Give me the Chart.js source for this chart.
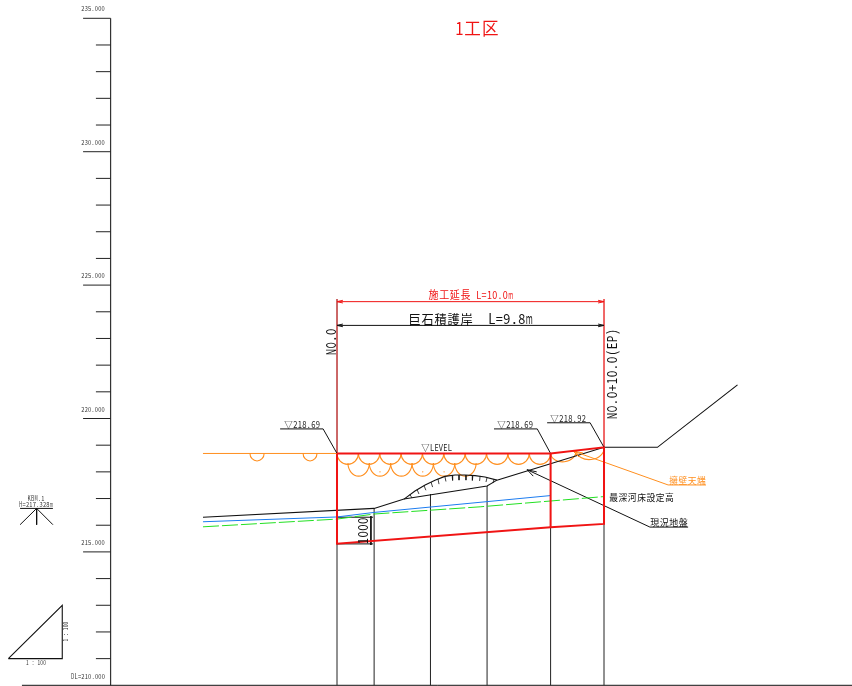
<!DOCTYPE html>
<html>
<head>
<meta charset="utf-8">
<title>1工区</title>
<script src="https://cdn.jsdelivr.net/npm/chart.js@4/dist/chart.umd.min.js"></script>
<style>
html, body { margin: 0; padding: 0; background: #fff; overflow: hidden; }
canvas { display: block; }
</style>
</head>
<body>
<canvas id="chart1" width="852" height="686"></canvas>
<script>
// x = 距離 (m) from NO.0, y = 標高 (m)
var GAP = [0, null];

var elevLabels = ['235.000', '230.000', '225.000', '220.000', '215.000'];
var minorElevs = [211, 212, 213, 214, 216, 217, 218, 219, 221, 222, 223, 224, 226, 227, 228, 229, 231, 232, 233, 234];
var majorElevs = [215, 220, 225, 230, 235];

var ground = [[-5.02, 216.30], [1.39, 216.63], [2.51, 216.98], [5.62, 217.47], [5.99, 217.69], [10, 218.92], [12, 218.92], [15, 221.26]];
var bank = [[2.51, 216.98], [2.92, 217.28], [3.30, 217.51], [3.67, 217.69], [4.04, 217.83], [4.42, 217.88], [4.79, 217.88], [5.17, 217.86], [5.54, 217.81], [5.99, 217.69]];
var hachures = [
    [2.73, 217.15, 2.81, 217.02], [3.00, 217.33, 3.07, 217.17], [3.26, 217.48, 3.33, 217.31],
    [3.52, 217.62, 3.58, 217.43], [3.78, 217.74, 3.82, 217.54], [4.04, 217.83, 4.08, 217.64],
    [4.31, 217.87, 4.33, 217.68], [4.57, 217.88, 4.57, 217.69], [4.83, 217.88, 4.83, 217.69],
    [5.09, 217.87, 5.07, 217.68], [5.36, 217.84, 5.34, 217.66], [5.62, 217.79, 5.58, 217.62],
    [5.88, 217.72, 5.84, 217.58]
];
var riverBlue = [[-5.02, 216.13], [0, 216.31], [1.39, 216.48], [7.98, 217.11]];
var riverGreen = [[-5.02, 215.94], [0, 216.23], [1.39, 216.42], [5.36, 216.69], [9.96, 217.07]];
var section = [[0, 218.69], [8, 218.69], [10, 218.92], [10, 216.05], [8, 215.92], [0, 215.31], [0, 218.69]];
var sectionMid = [[8, 218.69], [8, 215.92]];
var stations = [0, 1.39, 3.50, 5.62, 8, 10];
var stationTops = [215.31, 216.63, 217.17, 217.47, 215.92, 216.05];

var orangeGround = [[-5.02, 218.69], [0, 218.69]];
// x0, y0, x1, y1, depth
var scallops = [
    [-3.26, 218.69, -2.73, 218.69, 0.28], [-1.27, 218.69, -0.75, 218.69, 0.28],
    [0, 218.69, 0.8, 218.69, 0.41], [0.8, 218.69, 1.6, 218.69, 0.41], [1.6, 218.69, 2.4, 218.69, 0.41],
    [2.4, 218.69, 3.2, 218.69, 0.41], [3.2, 218.69, 4, 218.69, 0.41], [4, 218.69, 4.8, 218.69, 0.41],
    [4.8, 218.69, 5.6, 218.69, 0.41], [5.6, 218.69, 6.4, 218.69, 0.41], [6.4, 218.69, 7.2, 218.69, 0.41],
    [7.2, 218.69, 8, 218.69, 0.41],
    [0.41, 218.33, 1.21, 218.33, 0.49], [1.21, 218.33, 2.01, 218.33, 0.49], [2.01, 218.33, 2.81, 218.33, 0.49],
    [2.81, 218.33, 3.61, 218.33, 0.49], [3.61, 218.33, 4.41, 218.33, 0.49], [4.41, 218.33, 5.21, 218.33, 0.49],
    [8, 218.69, 8.95, 218.8, 0.37], [8.95, 218.8, 10, 218.92, 0.4]
];
var orangeDots = [[1.61, 218.0], [3.21, 218.0], [4.01, 218.0]];

var levelLeader1 = [[-2.13, 219.61], [-0.52, 219.61], [0, 218.69]];
var levelLeader2 = [[5.88, 219.61], [7.5, 219.61], [8, 218.69]];
var levelLeader3 = [[7.87, 219.84], [9.48, 219.84], [10, 218.92]];
var wallLeader = [[13.82, 217.51], [12.40, 217.51], [8.84, 218.78]];
var wallArrow = [[9.21, 218.71], [8.84, 218.78], [9.06, 218.56]];
var groundLeader = [[13.15, 215.93], [11.72, 215.93], [7.12, 218.08]];
var groundArrow = [[7.48, 218.0], [7.12, 218.08], [7.35, 217.84]];

var redDim = [[0, 224.38], [10, 224.38]];
var redDimTips = [[0.22, 224.43], [0, 224.38], [0.22, 224.33], GAP, [9.78, 224.43], [10, 224.38], [9.78, 224.33]];
var blackDim = [[0, 223.49], [10, 223.49]];
var blackDimTips = [[0.22, 223.54], [0, 223.49], [0.22, 223.44], GAP, [9.78, 223.54], [10, 223.49], [9.78, 223.44]];
var redExt0 = [[0, 224.48], [0, 218.69]];
var redExt10 = [[10, 224.48], [10, 218.92]];

var box1000 = [[0, 216.30], [1.35, 216.30], GAP, [1.27, 216.34], [1.27, 215.26], GAP, [1.35, 215.30], [0, 215.30]];
var kbmBar = [[-11.87, 216.63], [-10.64, 216.63]];
var kbmLegs = [[-11.87, 216.02], [-11.25, 216.63], [-10.64, 216.02], GAP, [-11.25, 216.63], [-11.25, 216.02]];
var scaleTriangle = [[-12.31, 211], [-10.29, 213], [-10.29, 211], [-12.31, 211]];
var baseline = [[-11.8, 210], [19.3, 210]];
var axisLine = [[-8.48, 210], [-8.48, 235]];

var BLACK = '#111111', RED = '#f01414', ORANGE = '#ff8f1f';
var MAJOR_X = -9.51, MINOR_X = -9.03, AXIS_X = -8.48;

function pts(list) {
    return list.map(function(p) { return { x: p[1] === null ? null : p[0], y: p[1] }; });
}

function line(list, color, width, dash) {
    return {
        data: pts(list),
        borderColor: color,
        borderWidth: width,
        borderDash: dash || [],
        pointRadius: 0,
        fill: false,
        tension: 0,
        spanGaps: false
    };
}

function tickSegments(values, fromX) {
    var out = [];
    values.forEach(function(v) {
        out.push([fromX, v], [AXIS_X, v], GAP);
    });
    return out;
}

function stationSegments() {
    var out = [];
    stations.forEach(function(s, i) {
        out.push([s, 210], [s, stationTops[i]], GAP);
    });
    return out;
}

function hachureSegments() {
    var out = [];
    hachures.forEach(function(h) {
        out.push([h[0], h[1]], [h[2], h[3]], GAP);
    });
    return out;
}

// drawn in this order, later on top
var drawList = [
    line(axisLine, '#333333', 1.2),
    line(tickSegments(minorElevs, MINOR_X), '#222222', 1),
    line(tickSegments(majorElevs, MAJOR_X), '#222222', 1),
    line(baseline, BLACK, 1),
    line(stationSegments(), '#222222', 1),
    line(redExt0, '#b01818', 1.3),
    line(redExt10, '#e81818', 1.3),
    line(redDim, RED, 1),
    line(redDimTips, RED, 1),
    line(blackDim, BLACK, 1),
    line(blackDimTips, BLACK, 1),
    line(ground, BLACK, 1.1),
    line(bank, BLACK, 1.1),
    line(hachureSegments(), BLACK, 0.8),
    line(levelLeader1, BLACK, 1),
    line(levelLeader2, BLACK, 1),
    line(levelLeader3, BLACK, 1),
    line(groundLeader, BLACK, 1),
    line(groundArrow, BLACK, 1),
    line(box1000, BLACK, 1),
    line(kbmBar, BLACK, 1),
    line(kbmLegs, BLACK, 1),
    line(scaleTriangle, BLACK, 1.1),
    line(riverBlue, '#1c7cf0', 1),
    line(riverGreen, '#22e022', 1, [16, 3]),
    line(orangeGround, ORANGE, 1),
    line(wallLeader, ORANGE, 1),
    line(wallArrow, ORANGE, 1),
    {
        data: pts(orangeDots),
        showLine: false,
        pointRadius: 0.7,
        pointBackgroundColor: ORANGE,
        pointBorderWidth: 0
    },
    line(section, RED, 2),
    line(sectionMid, RED, 2)
];

var drawingPlugin = {
    id: 'drawing',
    beforeDatasetsDraw: function(chart) {
        // 玉石 scallops
        var ctx = chart.ctx, sx = chart.scales.x, sy = chart.scales.y;
        ctx.save();
        ctx.strokeStyle = ORANGE;
        ctx.lineWidth = 1.1;
        scallops.forEach(function(s) {
            var x0 = sx.getPixelForValue(s[0]), y0 = sy.getPixelForValue(s[1]);
            var x1 = sx.getPixelForValue(s[2]), y1 = sy.getPixelForValue(s[3]);
            var depth = sy.getPixelForValue(s[1] - s[4]) - y0;
            var rx = Math.hypot(x1 - x0, y1 - y0) / 2;
            ctx.beginPath();
            ctx.ellipse((x0 + x1) / 2, (y0 + y1) / 2, rx, depth, Math.atan2(y1 - y0, x1 - x0), 0, Math.PI);
            ctx.stroke();
        });
        ctx.restore();
    },
    afterDatasetsDraw: function(chart) {
        var ctx = chart.ctx, sy = chart.scales.y;

        // CAD style: half-width cells for ascii, full cells for kanji
        function text(str, cx, cy, size, width, color, rot) {
            var chars = Array.from(str), units = 0;
            chars.forEach(function(c) { units += c.charCodeAt(0) < 128 ? 0.5 : 1; });
            ctx.save();
            ctx.translate(cx, cy);
            if (rot) ctx.rotate(rot);
            ctx.scale(width / (units * size), 1);
            ctx.font = size + 'px "Noto Sans CJK JP", sans-serif';
            ctx.fillStyle = color || BLACK;
            ctx.textAlign = 'center';
            ctx.textBaseline = 'middle';
            var pos = -units * size / 2;
            chars.forEach(function(c) {
                var w = (c.charCodeAt(0) < 128 ? 0.5 : 1) * size;
                // squeeze wide latin glyphs into their cell
                var fit = Math.min(1, 0.94 * w / ctx.measureText(c).width);
                ctx.save();
                ctx.translate(pos + w / 2, 0);
                ctx.scale(fit, 1);
                ctx.fillText(c, 0, 0);
                ctx.restore();
                pos += w;
            });
            ctx.restore();
        }

        elevLabels.forEach(function(l) {
            text(l, 93, sy.getPixelForValue(parseFloat(l)) - 9.5, 7, 23.5, '#333333');
        });
        text('DL=210.000', 88, 676.7, 7, 34, '#333333');

        text('1工区', 477, 28, 18, 44, RED);
        text('施工延長 L=10.0m', 470.8, 295, 11, 85, RED);
        text('巨石積護岸', 440.5, 319, 13, 65);
        text('L=9.8m', 510.5, 319, 14, 45);
        text('NO.0', 331, 342, 13.5, 27, BLACK, -Math.PI / 2);
        text('NO.0+10.0(EP)', 612, 374, 13.5, 91, BLACK, -Math.PI / 2);
        text('▽218.69', 302, 424, 9.5, 36, '#222222');
        text('▽LEVEL', 436.5, 447.7, 9.5, 31, '#222222');
        text('▽218.69', 515, 424, 9.5, 36, '#222222');
        text('▽218.92', 568, 418, 9.5, 36, '#222222');
        text('擁壁天端', 687.5, 480.7, 9.5, 37, ORANGE);
        text('最深河床設定高', 641.5, 497, 9.5, 65);
        text('現況地盤', 669, 522, 9.5, 38);
        text('1000', 363, 531, 13, 27, BLACK, -Math.PI / 2);
        text('KBM.1', 36, 498, 7, 17, '#333333');
        text('H=217.328m', 36, 504.3, 7, 34, '#333333');
        text('1 : 100', 36, 662.3, 7, 20, '#333333');
        text('1 : 100', 65.7, 631.7, 7, 20, '#333333', -Math.PI / 2);
    }
};

window.onload = function() {
    var ctx1 = document.getElementById('chart1').getContext('2d');
    var chart1 = new Chart(ctx1, {
        type: 'line',
        data: { datasets: drawList.slice().reverse() },
        options: {
            responsive: false,
            animation: false,
            devicePixelRatio: 1,
            layout: { padding: 0, autoPadding: false },
            plugins: {
                legend: { display: false },
                title: { display: false },
                tooltip: { enabled: false }
            },
            elements: { line: { borderCapStyle: 'butt', borderJoinStyle: 'miter' } },
            scales: {
                x: { type: 'linear', display: false, min: -12.622, max: 19.288 },
                y: { type: 'linear', display: false, min: 209.974, max: 235.686 }
            }
        },
        plugins: [drawingPlugin]
    });
};
</script>
</body>
</html>
